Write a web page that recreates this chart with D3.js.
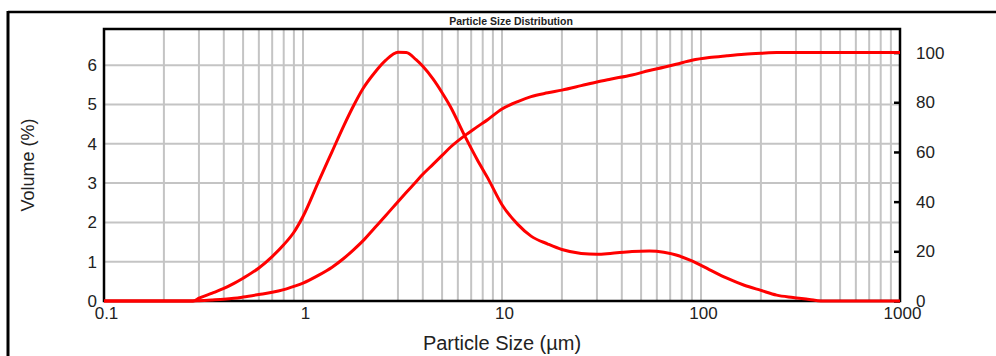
<!DOCTYPE html>
<html lang="en">
<head>
<meta charset="UTF-8">
<title>Particle Size Distribution</title>
<script src="https://cdn.jsdelivr.net/npm/d3@7/dist/d3.min.js"></script>
<style>
   body { margin: 0; background: #fff; }
   #chart text { font-family: "Liberation Sans", Arial, sans-serif; fill: #222; }
   .grid line { stroke: #c4c4c4; stroke-width: 2; }
   .curve { fill: none; stroke: #ff0000; stroke-width: 3; stroke-linejoin: round; }
</style>
</head>
<body>
<div id="chart"></div>
<script>
   // particle sizes (um)
   var sizes = [0.1, 0.2, 0.28, 0.3, 0.35, 0.4, 0.45, 0.5, 0.6, 0.7, 0.8, 0.9, 1.0,
      1.2, 1.4, 1.6, 1.8, 2.0, 2.3, 2.6, 3.0, 3.3, 3.7, 4.0, 4.5, 5.0, 5.5, 6.5,
      7.5, 8.5, 10, 12, 14, 17, 20, 25, 30, 35, 45, 55, 65, 75, 90, 110, 135,
      165, 200, 240, 290, 350, 400, 500, 1000];
   // volume % (left axis)
   var volume = [0, 0, 0, 0.07, 0.2, 0.32, 0.45, 0.58, 0.84, 1.13, 1.43, 1.75, 2.15,
      3.05, 3.8, 4.45, 4.98, 5.4, 5.82, 6.12, 6.33, 6.32, 6.14, 5.97, 5.65, 5.3, 4.95, 4.2,
      3.6, 3.12, 2.45, 1.95, 1.65, 1.45, 1.31, 1.21, 1.19, 1.21, 1.26, 1.27, 1.24, 1.17,
      1.02, 0.8, 0.58, 0.4, 0.27, 0.15, 0.09, 0.04, 0, 0, 0];
   // cumulative undersize % (right axis)
   var cumulative = [0, 0, 0, 0.1, 0.4, 0.7, 1.1, 1.6, 2.6, 3.5, 4.6, 5.9, 7.2,
      10.4, 13.6, 17.1, 20.7, 24.2, 29.6, 34.3, 40.0, 43.7, 48.0, 51.0, 55.0, 58.6, 61.9, 66.6,
      70.1, 73.1, 77.3, 80.3, 82.3, 83.8, 84.9, 86.7, 88.2, 89.3, 91.0, 92.8, 94.1, 95.3,
      96.9, 98.0, 98.7, 99.3, 99.7, 100, 100, 100, 100, 100, 100];

   var xTicks = [0.1, 1, 10, 100, 1000];
   var yTicks = [0, 1, 2, 3, 4, 5, 6];
   var y2Ticks = [0, 20, 40, 60, 80, 100];

   var svg = d3.select("#chart").append("svg").attr("width", 996).attr("height", 356);
   var pLeft = 104, pRight = 900, pTop = 29, pBottom = 301;

   var x = d3.scaleLog().domain([0.1, 1000]).range([pLeft, pRight]);
   var y = d3.scaleLinear().domain([0, 6.92]).range([pBottom, pTop]);
   var y2 = d3.scaleLinear().domain([0, 109.5]).range([pBottom, pTop]);

   // outer frame
   svg.append("line").attr("x1", 8).attr("x2", 996).attr("y1", 12).attr("y2", 12)
      .attr("stroke", "#000").attr("stroke-width", 2.5);
   svg.append("line").attr("x1", 8).attr("x2", 8).attr("y1", 11).attr("y2", 356)
      .attr("stroke", "#000").attr("stroke-width", 3);

   svg.append("text").attr("x", 511).attr("y", 25).attr("text-anchor", "middle")
      .style("font-size", "10.5px").style("font-weight", "bold")
      .text("Particle Size Distribution");

   // grid
   var grid = svg.append("g").attr("class", "grid");
   grid.selectAll(".vx").data(x.ticks().filter(function(d) { return d > 0.1 && d < 1000; }))
      .enter().append("line")
      .attr("x1", function(d) { return x(d); }).attr("x2", function(d) { return x(d); })
      .attr("y1", pTop).attr("y2", pBottom);
   grid.selectAll(".hy").data(yTicks.slice(1))
      .enter().append("line")
      .attr("x1", pLeft).attr("x2", pRight)
      .attr("y1", function(d) { return y(d); }).attr("y2", function(d) { return y(d); });

   // axes
   var ax = svg.append("g").attr("transform", "translate(0," + pBottom + ")")
      .call(d3.axisBottom(x).tickValues(xTicks).tickFormat(d3.format("~g")).tickSize(0).tickPadding(6));
   ax.select(".domain").remove();
   ax.selectAll("text").attr("dx", 2).style("font-size", "17px");

   var ay = svg.append("g").attr("transform", "translate(" + pLeft + ",0)")
      .call(d3.axisLeft(y).tickValues(yTicks).tickFormat(d3.format("d")).tickSize(0).tickPadding(7));
   ay.select(".domain").remove();
   ay.selectAll("text").style("font-size", "17px");

   var ay2 = svg.append("g").attr("transform", "translate(" + pRight + ",0)")
      .call(d3.axisRight(y2).tickValues(y2Ticks).tickSizeInner(-6).tickSizeOuter(0).tickPadding(16));
   ay2.select(".domain").remove();
   ay2.selectAll("line").attr("stroke", "#000").attr("stroke-width", 2.5);
   ay2.selectAll("text").style("font-size", "17px");

   // plot frame
   svg.append("rect").attr("x", pLeft).attr("y", pTop)
      .attr("width", pRight - pLeft).attr("height", pBottom - pTop)
      .attr("fill", "none").attr("stroke", "#000").attr("stroke-width", 2.5);

   svg.append("text").attr("transform", "translate(34,165) rotate(-90)")
      .attr("text-anchor", "middle").style("font-size", "18px").text("Volume (%)");
   svg.append("text").attr("x", 502).attr("y", 350)
      .attr("text-anchor", "middle").style("font-size", "20px").text("Particle Size (µm)");

   // curves
   var lineVol = d3.line().curve(d3.curveMonotoneX)
      .x(function(d, i) { return x(sizes[i]); })
      .y(function(d) { return y(d); });
   var lineCum = d3.line().curve(d3.curveMonotoneX)
      .x(function(d, i) { return x(sizes[i]); })
      .y(function(d) { return y2(d); });

   svg.append("path").datum(cumulative).attr("class", "curve").attr("d", lineCum);
   svg.append("path").datum(volume).attr("class", "curve").attr("d", lineVol);
</script>
</body>
</html>
